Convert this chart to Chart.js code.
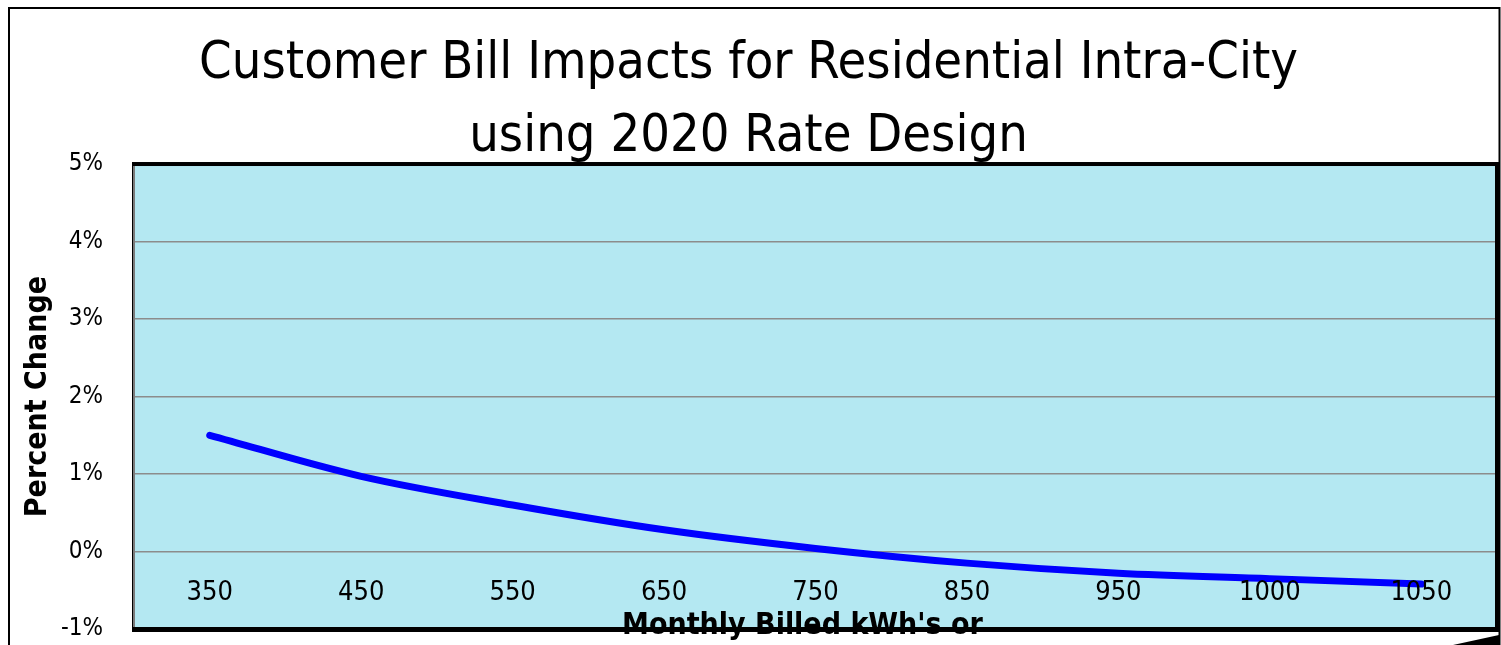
<!DOCTYPE html>
<html>
<head>
<meta charset="utf-8">
<script src="https://cdn.jsdelivr.net/npm/chart.js@4/dist/chart.umd.min.js"></script>
<style>
  html, body { margin: 0; padding: 0; background: #fff; }
  canvas { display: block; }
</style>
</head>
<body>
<canvas id="chart" width="1501" height="645"></canvas>
<script>
const titleLines = ['Customer Bill Impacts for Residential Intra-City', 'using 2020 Rate Design'];
const kwhLabels = ['350', '450', '550', '650', '750', '850', '950', '1000', '1050'];
const pctChange = [1.5, 0.97, 0.60, 0.28, 0.04, -0.15, -0.28, -0.35, -0.42];
const yTicks = [-1, 0, 1, 2, 3, 4, 5];
const xTitle = "Monthly Billed kWh's or";

const FONT = "'DejaVu Sans Condensed', 'DejaVu Sans', sans-serif";
const plotBg = '#b4e8f2';

const framePlugin = {
  id: 'frame',
  beforeDraw(chart) {
    const {ctx, chartArea: a} = chart;
    ctx.save();
    ctx.fillStyle = '#fff';
    ctx.fillRect(0, 0, chart.width, chart.height);
    ctx.strokeStyle = '#000';
    ctx.lineWidth = 2;
    ctx.strokeRect(9, 8, chart.width - 10.5, chart.height + 20);
    ctx.fillStyle = plotBg;
    ctx.fillRect(a.left, a.top, a.right - a.left, a.bottom - a.top);
    ctx.restore();
  },
  afterDraw(chart) {
    const {ctx, chartArea: a} = chart;
    const xs = chart.scales.x;
    ctx.save();
    // category labels sit inside the plot, just under the 0% line
    ctx.fillStyle = '#000';
    ctx.font = "27px " + FONT;
    ctx.textAlign = 'center';
    ctx.textBaseline = 'middle';
    xs.getLabels().forEach((lab, i) => {
      ctx.fillText(lab, xs.getPixelForValue(i), a.bottom - 36);
    });
    // axis title is cut by the frame, as in the original
    ctx.font = "bold 30px " + FONT;
    ctx.textBaseline = 'alphabetic';
    ctx.fillText(xTitle, (a.left + a.right) / 2 - 13, a.bottom + 5);
    // plot border
    ctx.fillStyle = '#7a7a7a';
    ctx.fillRect(a.left - 2, a.top, 3, a.bottom - a.top);
    ctx.fillStyle = '#000';
    ctx.fillRect(a.left - 2, a.top, 1, a.bottom - a.top);
    ctx.fillRect(a.left - 2, a.top - 2, a.right - a.left + 2, 4);
    ctx.fillRect(a.right - 2, a.top - 2, 4, a.bottom - a.top + 4);
    ctx.fillRect(a.left - 2, a.bottom - 2, a.right - a.left + 4, 5);
    ctx.beginPath();
    ctx.moveTo(a.right - 44, chart.height);
    ctx.lineTo(a.right + 2, a.bottom + 6);
    ctx.lineTo(a.right + 2, chart.height);
    ctx.closePath();
    ctx.fill();
    ctx.restore();
  }
};

new Chart(document.getElementById('chart'), {
  type: 'line',
  data: {
    labels: kwhLabels,
    datasets: [{
      data: pctChange,
      borderColor: '#0000ff',
      borderWidth: 7,
      borderCapStyle: 'round',
      cubicInterpolationMode: 'monotone',
      pointRadius: 0,
      fill: false
    }]
  },
  options: {
    responsive: false,
    animation: false,
    devicePixelRatio: 1,
    layout: {padding: {left: 0, right: 4, top: 0, bottom: 0}},
    plugins: {
      legend: {display: false},
      tooltip: {enabled: false},
      title: {
        display: true,
        text: titleLines,
        color: '#000',
        font: {family: FONT, size: 52, weight: 'normal', lineHeight: 1.404},
        padding: {top: 27.5, bottom: -9.5}
      }
    },
    scales: {
      x: {
        type: 'category',
        offset: true,
        grid: {display: false},
        border: {display: false},
        ticks: {display: false},
        afterFit(s) { s.height = 16; }
      },
      y: {
        min: -1,
        max: 5,
        afterBuildTicks(s) { s.ticks = yTicks.map(v => ({value: v})); },
        grid: {color: '#8c8c8c', lineWidth: 1.5, drawTicks: false},
        border: {display: false},
        ticks: {
          color: '#000',
          font: {family: FONT, size: 24},
          padding: 31,
          callback: v => v + '%'
        },
        title: {
          display: true,
          text: 'Percent Change',
          color: '#000',
          font: {family: FONT, size: 30, weight: 'bold', lineHeight: 1.2},
          padding: {top: 20, bottom: 0}
        },
        afterFit(s) {
          s.width = 134;
          s.paddingTop = 0;
          s.paddingBottom = 0;
        }
      }
    }
  },
  plugins: [framePlugin]
});
</script>
</body>
</html>
